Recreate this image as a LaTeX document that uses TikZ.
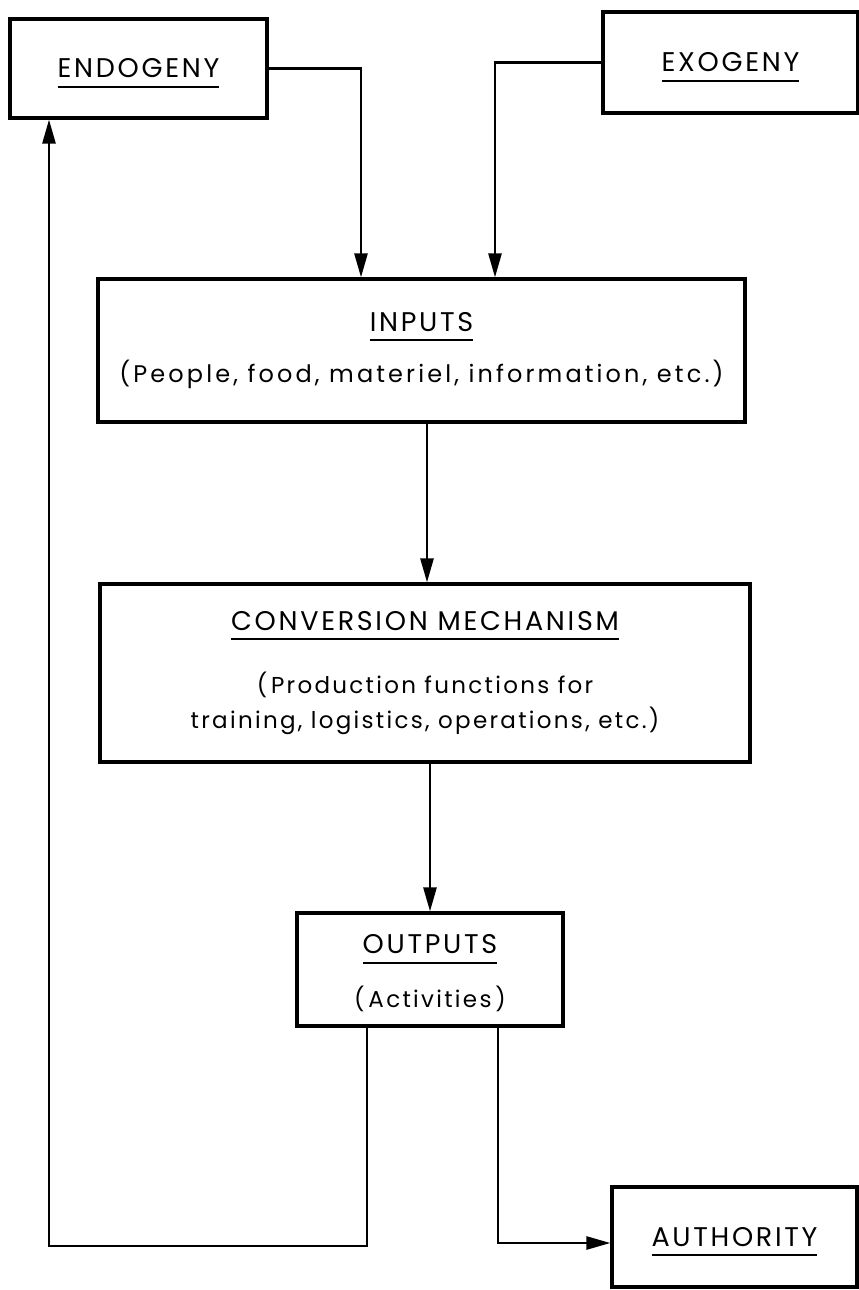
\documentclass[tikz,border=0pt]{standalone}
\usepackage{fontspec}
\setmainfont{Poppins}
\newfontfamily\ttlf[LetterSpace=10]{Poppins}
\newfontfamily\subf[LetterSpace=10]{Poppins}
\newfontfamily\subwf[LetterSpace=13]{Poppins}
\usetikzlibrary{arrows.meta}
\newsavebox\ttlbox
\newcommand{\ulttl}[1]{\sbox\ttlbox{\ttlf\fontsize{27}{30}\selectfont #1}\leavevmode\rlap{\smash{\rule[-10pt]{\wd\ttlbox}{2pt}}}\usebox\ttlbox}
\tikzset{
  box/.style={draw, rectangle, line width=3.2pt, inner sep=0pt, align=center},
  arr/.style={-{Triangle[length=24pt,width=13pt]}, line width=2.6pt, line join=miter},
}
\begin{document}
\begin{tikzpicture}[x=1pt,y=-1pt]
\useasboundingbox (0,0) rectangle (859,1290);
\node[box, minimum width=257pt, minimum height=99pt] (endo) at (138.5,68.5) {\ulttl{ENDOGENY}};
\node[box, minimum width=255pt, minimum height=101pt] (exo) at (730.5,62.5) {\ulttl{EXOGENY}};
\node[box, minimum width=647pt, minimum height=143pt, font={\subwf\fontsize{24}{51}\selectfont}] (inputs) at (421.5,350.5)
  {\ulttl{INPUTS}\\(People, food, materiel, information, etc.)};
\node[box, minimum width=650pt, minimum height=178pt, font={\subf\fontsize{23}{35}\selectfont}] (conv) at (425,673)
  {\ulttl{CONVERSION MECHANISM}\\[28pt](\,Production functions for\\training, logistics, operations, etc.)};
\node[box, minimum width=266pt, minimum height=113pt, font={\subf\fontsize{23}{54}\selectfont}] (outputs) at (430,969.5)
  {\rule{0pt}{27pt}\ulttl{OUTPUTS}\\(\,Activities\,)};
\node[box, minimum width=245pt, minimum height=100pt] (auth) at (734.5,1237) {\ulttl{AUTHORITY}};
\coordinate (xa) at (361,0);
\coordinate (xb) at (495,0);
\coordinate (xc) at (427,0);
\coordinate (xd) at (430,0);
\coordinate (la) at (367,1246);
\coordinate (lb) at (49,1246);
\coordinate (ra) at (498,1243);
\draw[arr] (endo.east) -| (xa |- inputs.north);
\draw[arr] (exo.west) -| (xb |- inputs.north);
\draw[arr] (inputs.south -| xc) -- (xc |- conv.north);
\draw[arr] (conv.south -| xd) -- (xd |- outputs.north);
\draw[arr] (outputs.south -| la) -- (la) -- (lb) -- (lb |- endo.south);
\draw[arr] (outputs.south -| ra) -- (ra) -- (ra -| auth.west);
\end{tikzpicture}
\end{document}
